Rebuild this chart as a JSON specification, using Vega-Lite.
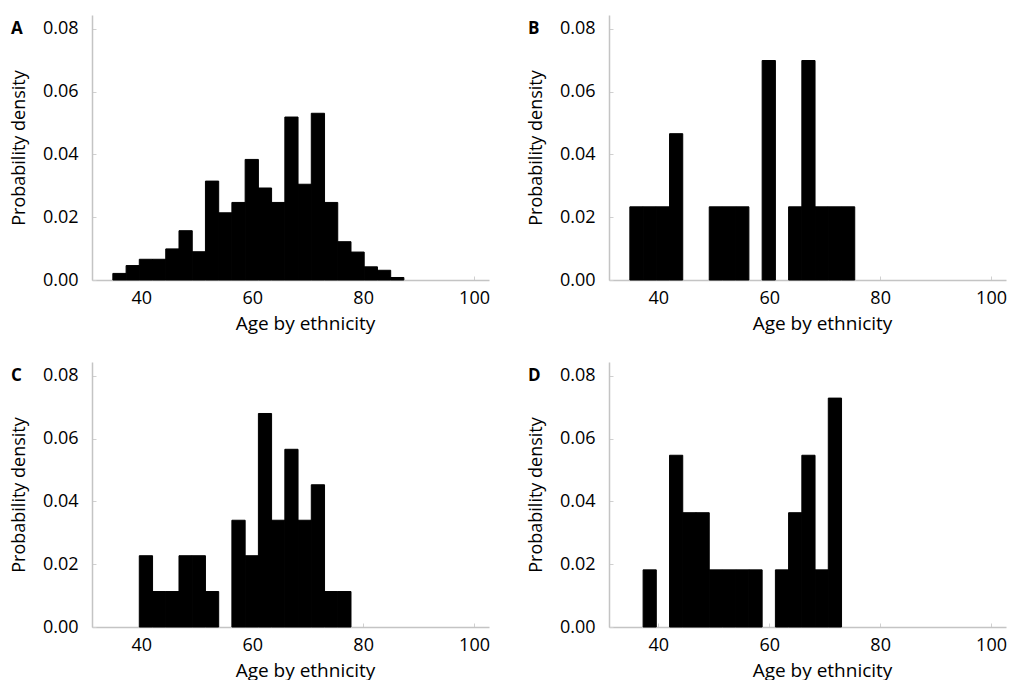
{
  "$schema": "https://vega.github.io/schema/vega-lite/v6.json",
  "background": "white",
  "padding": {"left": 10, "top": 15, "right": 0, "bottom": 0},
  "datasets": {
    "bins": [
      {"panel": "A", "start": 34.86, "end": 37.25, "density": 0.0021},
      {"panel": "A", "start": 37.25, "end": 39.63, "density": 0.0046},
      {"panel": "A", "start": 39.63, "end": 42.02, "density": 0.0066},
      {"panel": "A", "start": 42.02, "end": 44.40, "density": 0.0066},
      {"panel": "A", "start": 44.40, "end": 46.79, "density": 0.0099},
      {"panel": "A", "start": 46.79, "end": 49.18, "density": 0.0157},
      {"panel": "A", "start": 49.18, "end": 51.56, "density": 0.0090},
      {"panel": "A", "start": 51.56, "end": 53.95, "density": 0.0315},
      {"panel": "A", "start": 53.95, "end": 56.33, "density": 0.0214},
      {"panel": "A", "start": 56.33, "end": 58.72, "density": 0.0247},
      {"panel": "A", "start": 58.72, "end": 61.11, "density": 0.0384},
      {"panel": "A", "start": 61.11, "end": 63.49, "density": 0.0293},
      {"panel": "A", "start": 63.49, "end": 65.88, "density": 0.0247},
      {"panel": "A", "start": 65.88, "end": 68.26, "density": 0.0519},
      {"panel": "A", "start": 68.26, "end": 70.65, "density": 0.0305},
      {"panel": "A", "start": 70.65, "end": 73.04, "density": 0.0531},
      {"panel": "A", "start": 73.04, "end": 75.42, "density": 0.0247},
      {"panel": "A", "start": 75.42, "end": 77.81, "density": 0.0122},
      {"panel": "A", "start": 77.81, "end": 80.19, "density": 0.0089},
      {"panel": "A", "start": 80.19, "end": 82.58, "density": 0.0042},
      {"panel": "A", "start": 82.58, "end": 84.97, "density": 0.0031},
      {"panel": "A", "start": 84.97, "end": 87.35, "density": 0.0008},

      {"panel": "B", "start": 34.86, "end": 37.25, "density": 0.0233},
      {"panel": "B", "start": 37.25, "end": 39.63, "density": 0.0233},
      {"panel": "B", "start": 39.63, "end": 42.02, "density": 0.0233},
      {"panel": "B", "start": 42.02, "end": 44.40, "density": 0.0466},
      {"panel": "B", "start": 49.18, "end": 51.56, "density": 0.0233},
      {"panel": "B", "start": 51.56, "end": 53.95, "density": 0.0233},
      {"panel": "B", "start": 53.95, "end": 56.33, "density": 0.0233},
      {"panel": "B", "start": 58.72, "end": 61.11, "density": 0.0699},
      {"panel": "B", "start": 63.49, "end": 65.88, "density": 0.0233},
      {"panel": "B", "start": 65.88, "end": 68.26, "density": 0.0699},
      {"panel": "B", "start": 68.26, "end": 70.65, "density": 0.0233},
      {"panel": "B", "start": 70.65, "end": 73.04, "density": 0.0233},
      {"panel": "B", "start": 73.04, "end": 75.42, "density": 0.0233},

      {"panel": "C", "start": 39.63, "end": 42.02, "density": 0.0227},
      {"panel": "C", "start": 42.02, "end": 44.40, "density": 0.0113},
      {"panel": "C", "start": 44.40, "end": 46.79, "density": 0.0113},
      {"panel": "C", "start": 46.79, "end": 49.18, "density": 0.0227},
      {"panel": "C", "start": 49.18, "end": 51.56, "density": 0.0227},
      {"panel": "C", "start": 51.56, "end": 53.95, "density": 0.0113},
      {"panel": "C", "start": 56.33, "end": 58.72, "density": 0.0340},
      {"panel": "C", "start": 58.72, "end": 61.11, "density": 0.0227},
      {"panel": "C", "start": 61.11, "end": 63.49, "density": 0.0680},
      {"panel": "C", "start": 63.49, "end": 65.88, "density": 0.0340},
      {"panel": "C", "start": 65.88, "end": 68.26, "density": 0.0566},
      {"panel": "C", "start": 68.26, "end": 70.65, "density": 0.0340},
      {"panel": "C", "start": 70.65, "end": 73.04, "density": 0.0453},
      {"panel": "C", "start": 73.04, "end": 75.42, "density": 0.0113},
      {"panel": "C", "start": 75.42, "end": 77.81, "density": 0.0113},

      {"panel": "D", "start": 37.25, "end": 39.63, "density": 0.0182},
      {"panel": "D", "start": 42.02, "end": 44.40, "density": 0.0547},
      {"panel": "D", "start": 44.40, "end": 46.79, "density": 0.0364},
      {"panel": "D", "start": 46.79, "end": 49.18, "density": 0.0364},
      {"panel": "D", "start": 49.18, "end": 51.56, "density": 0.0182},
      {"panel": "D", "start": 51.56, "end": 53.95, "density": 0.0182},
      {"panel": "D", "start": 53.95, "end": 56.33, "density": 0.0182},
      {"panel": "D", "start": 56.33, "end": 58.72, "density": 0.0182},
      {"panel": "D", "start": 61.11, "end": 63.49, "density": 0.0182},
      {"panel": "D", "start": 63.49, "end": 65.88, "density": 0.0364},
      {"panel": "D", "start": 65.88, "end": 68.26, "density": 0.0547},
      {"panel": "D", "start": 68.26, "end": 70.65, "density": 0.0182},
      {"panel": "D", "start": 70.65, "end": 73.04, "density": 0.0729}
    ]
  },
  "columns": 2,
  "spacing": {"row": 29, "column": 37},
  "concat": [
    {
      "width": 397, "height": 265,
      "title": {"text": "A"},
      "data": {"name": "bins"},
      "transform": [{"filter": "datum.panel === 'A'"}],
      "mark": {"type": "bar", "color": "black", "stroke": "black", "strokeWidth": 1},
      "encoding": {
        "x": {"field": "start", "type": "quantitative", "title": "Age by ethnicity", "scale": {"domain": [31.1, 102.7], "nice": false, "zero": false}, "axis": {"values": [40, 60, 80, 100]}},
        "x2": {"field": "end"},
        "y": {"field": "density", "type": "quantitative", "title": "Probability density", "scale": {"domain": [0, 0.0844], "nice": false}, "axis": {"values": [0, 0.02, 0.04, 0.06, 0.08], "format": ".2f"}},
        "y2": {"datum": 0}
      }
    },
    {
      "width": 397, "height": 265,
      "title": {"text": "B"},
      "data": {"name": "bins"},
      "transform": [{"filter": "datum.panel === 'B'"}],
      "mark": {"type": "bar", "color": "black", "stroke": "black", "strokeWidth": 1},
      "encoding": {
        "x": {"field": "start", "type": "quantitative", "title": "Age by ethnicity", "scale": {"domain": [31.1, 102.7], "nice": false, "zero": false}, "axis": {"values": [40, 60, 80, 100]}},
        "x2": {"field": "end"},
        "y": {"field": "density", "type": "quantitative", "title": "Probability density", "scale": {"domain": [0, 0.0844], "nice": false}, "axis": {"values": [0, 0.02, 0.04, 0.06, 0.08], "format": ".2f"}},
        "y2": {"datum": 0}
      }
    },
    {
      "width": 397, "height": 265,
      "title": {"text": "C"},
      "data": {"name": "bins"},
      "transform": [{"filter": "datum.panel === 'C'"}],
      "mark": {"type": "bar", "color": "black", "stroke": "black", "strokeWidth": 1},
      "encoding": {
        "x": {"field": "start", "type": "quantitative", "title": "Age by ethnicity", "scale": {"domain": [31.1, 102.7], "nice": false, "zero": false}, "axis": {"values": [40, 60, 80, 100]}},
        "x2": {"field": "end"},
        "y": {"field": "density", "type": "quantitative", "title": "Probability density", "scale": {"domain": [0, 0.0844], "nice": false}, "axis": {"values": [0, 0.02, 0.04, 0.06, 0.08], "format": ".2f"}},
        "y2": {"datum": 0}
      }
    },
    {
      "width": 397, "height": 265,
      "title": {"text": "D"},
      "data": {"name": "bins"},
      "transform": [{"filter": "datum.panel === 'D'"}],
      "mark": {"type": "bar", "color": "black", "stroke": "black", "strokeWidth": 1},
      "encoding": {
        "x": {"field": "start", "type": "quantitative", "title": "Age by ethnicity", "scale": {"domain": [31.1, 102.7], "nice": false, "zero": false}, "axis": {"values": [40, 60, 80, 100]}},
        "x2": {"field": "end"},
        "y": {"field": "density", "type": "quantitative", "title": "Probability density", "scale": {"domain": [0, 0.0844], "nice": false}, "axis": {"values": [0, 0.02, 0.04, 0.06, 0.08], "format": ".2f"}},
        "y2": {"datum": 0}
      }
    }
  ],
  "config": {
    "font": "Open Sans",
    "view": {"stroke": null},
    "title": {"anchor": "start", "frame": "group", "fontSize": 17, "fontWeight": "bold", "color": "black", "dx": -81, "dy": 27, "offset": 0, "baseline": "bottom"},
    "axis": {
      "grid": false,
      "domainColor": "#c4c4c4",
      "domainWidth": 1.5,
      "tickColor": "#d0d0d0",
      "tickSize": -4,
      "labelColor": "black",
      "titleColor": "black",
      "labelFontSize": 18,
      "titleFontWeight": "normal"
    },
    "axisY": {"labelPadding": 18, "titlePadding": 14, "titleFontSize": 18},
    "axisX": {"labelPadding": 13, "titlePadding": 7, "titleFontSize": 19, "titleX": 213}
  }
}
